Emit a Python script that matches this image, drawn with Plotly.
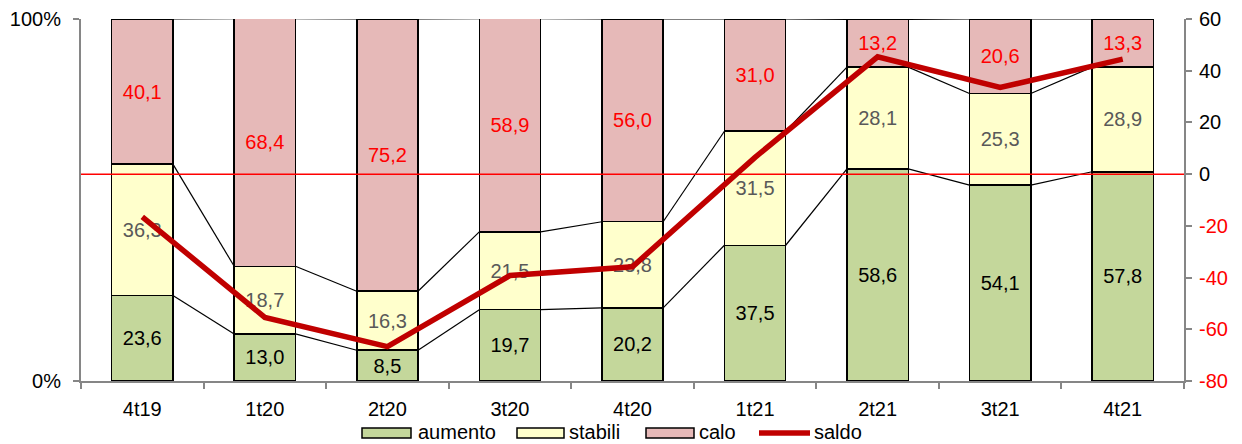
import plotly.graph_objects as go

categories = ["4t19", "1t20", "2t20", "3t20", "4t20", "1t21", "2t21", "3t21", "4t21"]
aumento = [23.6, 13.0, 8.5, 19.7, 20.2, 37.5, 58.6, 54.1, 57.8]
stabili = [36.3, 18.7, 16.3, 21.5, 23.8, 31.5, 28.1, 25.3, 28.9]
calo = [40.1, 68.4, 75.2, 58.9, 56.0, 31.0, 13.2, 20.6, 13.3]
saldo = [-16.5, -55.4, -66.7, -39.2, -35.8, 6.5, 45.4, 33.5, 44.5]

pct_tickvals = [0, 100]
pct_ticktext = ["0%", "100%"]
saldo_tickvals = [-80, -60, -40, -20, 0, 20, 40, 60]

FONT = "Liberation Sans, Arial, sans-serif"
GREEN = "#C4D79B"
YELLOW = "#FFFFCC"
PINK = "#E6B9B8"
DARKRED = "#C00000"
GRAY = "#868686"

# plot-area pixel geometry (for legend placement)
L, R, T, B = 81, 1184, 19, 381
W, H = 1242, 444


def px(x):
    return (x - L) / (R - L)


def py(y):
    return (B - y) / (B - T)


def fmt(v):
    return f"{v:.1f}".replace(".", ",")


xs = list(range(len(categories)))
BW = 0.5

fig = go.Figure()
series = [("aumento", aumento, GREEN, "#000000"),
          ("stabili", stabili, YELLOW, "#595959"),
          ("calo", calo, PINK, "#FF0000")]
for name, vals, col, tcol in series:
    fig.add_trace(go.Bar(
        x=xs, y=vals, name=name, width=BW,
        marker=dict(color=col, line=dict(color="#000000", width=1.5)),
        text=[fmt(v) for v in vals], textposition="inside",
        insidetextanchor="middle", textangle=0, constraintext="none",
        textfont=dict(family=FONT, size=20, color=tcol),
        showlegend=False, hoverinfo="skip",
    ))

# series lines connecting stacked boundaries
c1 = aumento
c2 = [a + s for a, s in zip(aumento, stabili)]
c3 = [a + s + c for a, s, c in zip(aumento, stabili, calo)]
for cum in (c1, c2, c3):
    lx, ly = [], []
    for i in range(len(xs) - 1):
        lx += [xs[i] + BW / 2, xs[i + 1] - BW / 2, None]
        ly += [cum[i], cum[i + 1], None]
    fig.add_trace(go.Scatter(x=lx, y=ly, mode="lines",
                             line=dict(color="#000000", width=1.2),
                             showlegend=False, hoverinfo="skip"))

# zero reference line on secondary axis
fig.add_trace(go.Scatter(x=[-0.5, len(xs) - 0.5], y=[0, 0], mode="lines",
                         line=dict(color="#FF0000", width=1.5), yaxis="y2",
                         showlegend=False, hoverinfo="skip"))
fig.add_trace(go.Scatter(x=xs, y=saldo, mode="lines", name="saldo",
                         line=dict(color=DARKRED, width=5.5), yaxis="y2",
                         showlegend=False, hoverinfo="skip"))

saldo_ticktext = [f'<span style="color:#FF0000">{v}</span>' if v < 0 else str(v)
                  for v in saldo_tickvals]

shapes = []
annotations = []
leg_y = 432
items = [("aumento", GREEN, 362, 411, 416),
         ("stabili", YELLOW, 517, 564, 567),
         ("calo", PINK, 646, 694, 697)]
for name, col, x0, x1, tx in items:
    shapes.append(dict(type="rect", xref="paper", yref="paper",
                       x0=px(x0), x1=px(x1), y0=py(leg_y + 6), y1=py(leg_y - 4),
                       fillcolor=col, line=dict(color="#000000", width=1.5)))
    annotations.append(dict(xref="paper", yref="paper", x=px(tx), y=py(leg_y),
                            text=name, showarrow=False, xanchor="left", yanchor="middle",
                            font=dict(family=FONT, size=20, color="#000000")))
shapes.append(dict(type="line", xref="paper", yref="paper",
                   x0=px(759), x1=px(810), y0=py(leg_y + 1), y1=py(leg_y + 1),
                   line=dict(color=DARKRED, width=5.5)))
annotations.append(dict(xref="paper", yref="paper", x=px(812), y=py(leg_y),
                        text="saldo", showarrow=False, xanchor="left", yanchor="middle",
                        font=dict(family=FONT, size=20, color="#000000")))

fig.update_layout(
    width=W, height=H,
    margin=dict(l=L, r=W - R, t=T, b=H - B, pad=0, autoexpand=False),
    paper_bgcolor="white", plot_bgcolor="white",
    barmode="stack", bargap=0.5,
    font=dict(family=FONT, size=20, color="#000000"),
    showlegend=False,
    shapes=shapes, annotations=annotations,
    xaxis=dict(range=[-0.5, len(xs) - 0.5], tickvals=xs, ticktext=categories,
               automargin=False, ticklabelstandoff=9,
               showline=True, linecolor=GRAY, linewidth=2, ticks="",
               showgrid=False, zeroline=False,
               minor=dict(tickvals=[i - 0.5 for i in range(len(xs) + 1)],
                          ticks="outside", ticklen=6, tickcolor=GRAY, tickwidth=2,
                          showgrid=False),
               tickfont=dict(family=FONT, size=20, color="#000000")),
    yaxis=dict(range=[0, 100], tickvals=pct_tickvals, ticktext=pct_ticktext,
               automargin=False, ticklabelstandoff=8,
               showline=True, linecolor=GRAY, linewidth=2,
               ticks="outside", ticklen=6, tickcolor=GRAY, tickwidth=2,
               showgrid=True, gridcolor=GRAY, gridwidth=1.5, zeroline=False,
               tickfont=dict(family=FONT, size=20, color="#000000")),
    yaxis2=dict(range=[-80, 60], tickvals=saldo_tickvals, ticktext=saldo_ticktext,
                automargin=False, ticklabelstandoff=3,
                overlaying="y", side="right",
                showline=True, linecolor=GRAY, linewidth=2,
                ticks="outside", ticklen=6, tickcolor=GRAY, tickwidth=2,
                showgrid=False, zeroline=False,
                tickfont=dict(family=FONT, size=20, color="#000000")),
)

fig.write_html("out.html")
